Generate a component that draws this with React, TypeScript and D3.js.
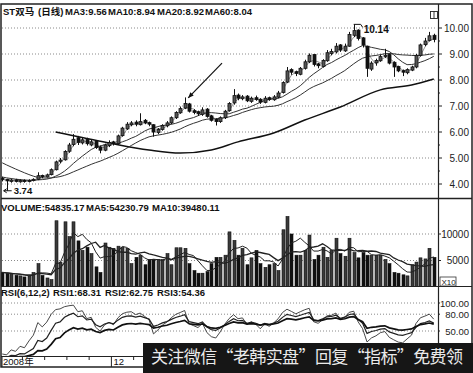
import React from 'react';
import * as d3 from 'd3';

const W = 473;
const H = 373;

// ---------- data ----------
const priorCloses = [5.9, 5.8, 5.7, 5.65, 5.6, 5.55, 5.5, 5.4, 5.3, 4.6, 4.52, 4.45, 4.4, 4.35, 4.3, 4.26, 4.22, 4.2, 4.18, 4.15];

const opens = [
  4.22, 4.18, 4.10, 4.16, 4.10, 4.14, 4.10, 4.13, 4.18, 4.33,
  4.27, 4.36, 4.55, 4.88, 4.93, 5.26, 5.52, 5.78, 5.58, 5.72,
  5.50, 5.65, 5.42, 5.30, 5.48, 5.62, 5.55, 5.86, 6.12, 6.28,
  6.38, 6.28, 6.45, 6.36, 6.28, 5.98, 6.10, 6.24, 6.35, 6.55,
  6.74, 6.92, 7.08, 6.82, 6.78, 6.68, 6.88, 6.62, 6.48, 6.40,
  6.55, 6.82, 7.12, 7.42, 7.28, 7.38, 7.18, 7.32, 7.26, 7.14,
  7.32, 7.24, 7.34, 7.52, 7.92, 8.40, 8.32, 8.22, 8.45, 8.70,
  8.98, 8.62, 8.52, 8.74, 9.02, 9.08, 9.35, 9.12, 9.30, 9.72,
  9.92, 9.62, 9.30, 8.42, 8.66, 8.74, 8.92, 8.98, 8.68, 8.52,
  8.36, 8.28, 8.38, 8.50, 8.94, 9.36, 9.52, 9.72,
];
const highs = [
  4.28, 4.20, 4.20, 4.20, 4.18, 4.18, 4.18, 4.22, 4.45, 4.36,
  4.40, 4.60, 4.90, 5.00, 5.30, 5.58, 5.92, 5.85, 5.80, 5.78,
  5.70, 5.68, 5.48, 5.55, 5.68, 5.66, 5.90, 6.20, 6.38, 6.42,
  6.45, 6.72, 6.50, 6.40, 6.30, 6.15, 6.30, 6.42, 6.60, 6.80,
  6.98, 7.33, 7.12, 6.88, 6.82, 6.95, 6.92, 6.66, 6.52, 6.60,
  6.85, 7.15, 7.65, 7.48, 7.42, 7.42, 7.36, 7.40, 7.30, 7.38,
  7.36, 7.42, 7.58, 7.95, 8.50, 8.45, 8.36, 8.50, 8.78, 9.02,
  9.00, 8.66, 8.80, 9.15, 9.20, 9.42, 9.38, 9.40, 9.85, 10.14,
  9.95, 9.65, 9.32, 8.72, 8.82, 8.98, 9.20, 9.02, 8.72, 8.55,
  8.40, 8.45, 8.55, 9.00, 9.40, 9.62, 9.85, 9.78,
];
const lows = [
  4.10, 3.74, 4.05, 4.06, 4.05, 4.05, 4.06, 4.10, 4.15, 4.22,
  4.25, 4.33, 4.52, 4.80, 4.90, 5.20, 5.45, 5.50, 5.52, 5.48,
  5.45, 5.35, 5.18, 5.26, 5.42, 5.48, 5.50, 5.82, 6.08, 6.22,
  6.22, 6.25, 6.30, 6.22, 5.82, 5.92, 6.05, 6.18, 6.30, 6.50,
  6.70, 6.88, 6.75, 6.68, 6.62, 6.62, 6.55, 6.40, 6.25, 6.35,
  6.50, 6.78, 7.05, 7.22, 7.22, 7.15, 7.12, 7.20, 7.08, 7.10,
  7.20, 7.20, 7.30, 7.48, 7.88, 8.20, 8.15, 8.18, 8.40, 8.65,
  8.52, 8.45, 8.48, 8.70, 8.95, 9.02, 9.08, 9.08, 9.28, 9.65,
  9.52, 9.25, 8.12, 8.35, 8.55, 8.70, 8.85, 8.60, 8.12, 8.30,
  8.15, 8.22, 8.34, 8.45, 8.90, 9.30, 9.48, 9.45,
];
const closes = [
  4.18, 4.12, 4.15, 4.10, 4.13, 4.10, 4.14, 4.18, 4.32, 4.28,
  4.35, 4.55, 4.85, 4.92, 5.25, 5.50, 5.72, 5.60, 5.70, 5.55,
  5.62, 5.40, 5.30, 5.50, 5.60, 5.55, 5.85, 6.15, 6.30, 6.35,
  6.30, 6.40, 6.35, 6.30, 6.00, 6.10, 6.25, 6.35, 6.55, 6.75,
  6.90, 7.10, 6.80, 6.75, 6.70, 6.85, 6.60, 6.45, 6.40, 6.55,
  6.80, 7.10, 7.40, 7.30, 7.35, 7.20, 7.30, 7.25, 7.15, 7.30,
  7.25, 7.35, 7.50, 7.90, 8.35, 8.30, 8.25, 8.45, 8.70, 8.95,
  8.60, 8.55, 8.75, 9.05, 9.10, 9.30, 9.15, 9.30, 9.75, 9.90,
  9.60, 9.35, 8.45, 8.65, 8.75, 8.90, 8.95, 8.65, 8.50, 8.35,
  8.30, 8.40, 8.50, 8.95, 9.35, 9.50, 9.70, 9.56,
];
const volumes = [
  2750, 2600, 2400, 2200, 2100, 1900, 2100, 2750, 4400, 2200,
  1700, 1400, 12500, 4700, 12300, 9500, 12300, 8700, 6900, 7500,
  6300, 3800, 2750, 8300, 7500, 7300, 7700, 7500, 7300, 4400,
  5600, 6000, 4200, 5200, 5200, 5200, 5200, 6300, 4200, 7400,
  7400, 7300, 4400, 3100, 2600, 2600, 2900, 4400, 5600, 5600,
  6000, 10400, 8800, 6000, 7300, 4200, 5500, 6900, 4400, 3700,
  4200, 4400, 3100, 10800, 13300, 10000, 6000, 6000, 6900, 9800,
  5200, 6000, 7500, 5600, 6900, 9200, 6300, 5800, 9200, 6500,
  5500, 6500, 6000, 6000, 6000, 6000, 5200, 4400, 2750, 2600,
  2300, 2100, 4200, 4700, 5500, 5300, 7300, 5600,
];
const ma60Idx = [12, 24, 33, 40, 47, 53, 61, 68, 76, 85, 92, 97];
const ma60Val = [6.0, 5.58, 5.31, 5.19, 5.31, 5.62, 5.96, 6.46, 6.96, 7.62, 7.81, 8.04];

const priceTicks = [4, 5, 6, 7, 8, 9, 10];
const priceMinor = [4.5, 5.5, 6.5, 7.5, 8.5, 9.5];
const volTicks = [5000, 10000];
const rsiTicks = [50, 80, 100];
const dateTickIdx = [5, 10, 15, 20, 30, 35];
const dateLabels = ['2008年', '12'];
const dateLabelIdx = [0, 25];

const priceTitle = ['ST双马', '(日线)', 'MA3:9.56', 'MA10:8.94', 'MA20:8.92', 'MA60:8.04'];
const volTitle = ['VOLUME:54835.17', 'MA5:54230.79', 'MA10:39480.11'];
const rsiTitle = ['RSI(6,12,2)', 'RSI1:68.31', 'RSI2:62.75', 'RSI3:54.36'];

const lowMark = { i: 1, v: 3.74, text: '3.74' };
const highMark = { i: 79, v: 10.14, text: '10.14' };
const arrowFrom = { i: 49.4, v: 8.65 };
const arrowTo = { i: 41.8, v: 7.31 };

const watermark = '关注微信“老韩实盘”回复“指标”免费领';

// ---------- derived ----------
const N = closes.length;
const P = priorCloses.length;
const allCloses = [...priorCloses, ...closes];

function maClose(n: number) {
  return closes.map((_, i) => {
    const end = P + i;
    const start = Math.max(0, end - n + 1);
    return d3.mean(allCloses.slice(start, end + 1)) as number;
  });
}
function maVol(n: number) {
  return volumes.map((_, i) => d3.mean(volumes.slice(Math.max(0, i - n + 1), i + 1)) as number);
}
function rsi(n: number) {
  let up: number | null = null;
  let ab = 0;
  const out: number[] = [];
  for (let k = 1; k < allCloses.length; k++) {
    const d = allCloses[k] - allCloses[k - 1];
    const u = Math.max(d, 0);
    const a = Math.abs(d);
    if (up === null) { up = u; ab = a; } else { up = (u + (n - 1) * up) / n; ab = (a + (n - 1) * ab) / n; }
    if (k >= P) out.push(ab === 0 ? 50 : (up / ab) * 100);
  }
  return out;
}

const FONT = '"Liberation Sans", Arial, "Noto Sans CJK SC", sans-serif';

export default function App() {
  const idx = d3.range(N);
  const xb = d3.scaleBand<number>().domain(idx).range([0, 436]).paddingInner(0.3).paddingOuter(0.15);
  const cx = (i: number) => (xb(i) as number) + xb.bandwidth() / 2;
  const xc = d3.scaleLinear().domain([0, N - 1]).range([cx(0), cx(N - 1)]);
  const bw = 3;

  const yP = d3.scaleLinear().domain([4, 10]).range([184, 28]);
  const yV = d3.scaleLinear().domain([0, 10000]).range([287, 234]);
  const yR = d3.scaleLinear().domain([0, 100]).range([359, 303]);

  const ma3 = maClose(3);
  const ma10 = maClose(10);
  const ma20 = maClose(20);
  const vma5 = maVol(5);
  const vma10 = maVol(10);
  const r1 = rsi(6);
  const r2 = rsi(12);
  const r3 = rsi(24);

  const lineP = d3.line<number>().x((_, i) => xc(i)).y((d) => yP(d));
  const lineV = d3.line<number>().x((_, i) => xc(i)).y((d) => yV(d));
  const lineR = d3.line<number>().x((_, i) => xc(i)).y((d) => yR(d));
  const ma60Line = d3.line<number>().x((d) => xc(d)).y((_, k) => yP(ma60Val[k])).curve(d3.curveMonotoneX);

  const axisX = 438;
  const plotR = 437;
  const grid = '#8a8a8a';

  const titleX = [3, 38, 65, 108, 157, 205];
  const volTitleX = [1, 86, 152];
  const rsiTitleX = [1, 53, 105, 157];

  const ax1 = xc(arrowFrom.i), ay1 = yP(arrowFrom.v), ax2 = xc(arrowTo.i), ay2 = yP(arrowTo.v);
  const ang = Math.atan2(ay2 - ay1, ax2 - ax1);
  const ah = 6;
  const head = [
    [ax2, ay2],
    [ax2 - ah * Math.cos(ang - 0.4), ay2 - ah * Math.sin(ang - 0.4)],
    [ax2 - ah * Math.cos(ang + 0.4), ay2 - ah * Math.sin(ang + 0.4)],
  ];
  const lx = cx(lowMark.i);
  const ly = yP(lowMark.v);

  return (
    <svg width={W} height={H} style={{ position: 'absolute', left: 0, top: 0, background: '#fff' }} fontFamily={FONT}>
      <defs>
        <clipPath id="cp"><rect x={1} y={5} width={plotR - 1} height={193} /></clipPath>
        <clipPath id="cv"><rect x={1} y={200} width={plotR - 1} height={86} /></clipPath>
        <clipPath id="cr"><rect x={1} y={287} width={plotR - 1} height={69} /></clipPath>
      </defs>
      <rect x={0} y={0} width={W} height={H} fill="#fff" />

      {/* grid lines */}
      {priceTicks.map((t) => (
        <line key={'pg' + t} x1={2} x2={plotR} y1={yP(t)} y2={yP(t)} stroke={grid} strokeDasharray="1,2" />
      ))}
      {volTicks.map((t) => (
        <line key={'vg' + t} x1={2} x2={plotR} y1={yV(t)} y2={yV(t)} stroke={grid} strokeDasharray="1,2" />
      ))}
      {rsiTicks.map((t) => (
        <line key={'rg' + t} x1={2} x2={plotR} y1={yR(t)} y2={yR(t)} stroke={grid} strokeDasharray="1,2" />
      ))}

      {/* price panel */}
      <g clipPath="url(#cp)">
        <path d={ma60Line(ma60Idx) || ''} fill="none" stroke="#111" strokeWidth={1.5} />
        <path d={lineP(ma20) || ''} fill="none" stroke="#333" strokeWidth={1} />
        <path d={lineP(ma10) || ''} fill="none" stroke="#333" strokeWidth={1} />
        <path d={lineP(ma3) || ''} fill="none" stroke="#666" strokeWidth={0.7} />
        {idx.map((i) => {
          const x = Math.round(cx(i)) + 0.5;
          const up = closes[i] >= opens[i];
          const top = yP(Math.max(opens[i], closes[i]));
          const bot = yP(Math.min(opens[i], closes[i]));
          return (
            <g key={'c' + i}>
              <line x1={x} x2={x} y1={yP(highs[i])} y2={yP(lows[i])} stroke="#111" strokeWidth={1} />
              <rect x={x - bw / 2} y={top} width={bw} height={Math.max(1.2, bot - top)}
                fill={up ? '#555' : '#111'} stroke="#111" strokeWidth={0.8} />
            </g>
          );
        })}
        {/* annotations */}
        <path d={`M${lx - 3},${ly} h8 M${lx - 3},${ly} l3,-2 M${lx - 3},${ly} l3,2`} fill="none" stroke="#111" strokeWidth={1} />
        <text x={lx + 7} y={ly + 3.5} fontSize={9.5} fontWeight="bold" fill="#111">{lowMark.text}</text>
        <path d={`M${cx(highMark.i)},${yP(highMark.v)} h7 l2,3`} fill="none" stroke="#111" strokeWidth={1} />
        <text x={cx(highMark.i) + 10} y={yP(highMark.v) + 9} fontSize={10} fontWeight="bold" fill="#111">{highMark.text}</text>
        <line x1={ax1} y1={ay1} x2={ax2} y2={ay2} stroke="#111" strokeWidth={1.2} />
        <polygon points={head.map((p) => p.join(',')).join(' ')} fill="#111" />
      </g>

      {/* volume panel */}
      <g clipPath="url(#cv)">
        {idx.map((i) => {
          const x = Math.round(cx(i)) + 0.5;
          const up = closes[i] >= opens[i];
          const top = yV(volumes[i]);
          return (
            <rect key={'v' + i} x={x - bw / 2} y={top} width={bw} height={yV(0) - top}
              fill={up ? '#3a3a3a' : '#111'} stroke="#111" strokeWidth={0.6} />
          );
        })}
        <path d={lineV(vma5) || ''} fill="none" stroke="#222" strokeWidth={1} />
        <path d={lineV(vma10) || ''} fill="none" stroke="#222" strokeWidth={1.3} />
      </g>

      {/* rsi panel */}
      <g clipPath="url(#cr)">
        <path d={lineR(r1) || ''} fill="none" stroke="#333" strokeWidth={0.9} />
        <path d={lineR(r2) || ''} fill="none" stroke="#222" strokeWidth={1.2} />
        <path d={lineR(r3) || ''} fill="none" stroke="#111" strokeWidth={1.7} />
      </g>

      {/* frame and separators */}
      <rect x={1} y={4} width={471} height={363} fill="none" stroke="#222" strokeWidth={1.5} />
      <line x1={1} x2={472} y1={198.5} y2={198.5} stroke="#222" strokeWidth={1.5} />
      <line x1={1} x2={472} y1={286.5} y2={286.5} stroke="#222" strokeWidth={1.2} />
      <line x1={1} x2={472} y1={356.5} y2={356.5} stroke="#222" strokeWidth={1} />
      <line x1={axisX + 0.5} x2={axisX + 0.5} y1={4} y2={367} stroke="#222" strokeWidth={1.2} />

      {/* right axes */}
      {priceTicks.map((t) => (
        <g key={'pt' + t}>
          <line x1={axisX} x2={axisX + 4} y1={yP(t)} y2={yP(t)} stroke="#222" />
          <text x={469} y={yP(t) + 3.5} fontSize={10} textAnchor="end" fill="#222">{t.toFixed(2)}</text>
        </g>
      ))}
      {priceMinor.map((t) => (
        <line key={'pm' + t} x1={axisX} x2={axisX + 2} y1={yP(t)} y2={yP(t)} stroke="#222" />
      ))}
      {volTicks.map((t) => (
        <g key={'vt' + t}>
          <line x1={axisX} x2={axisX + 3} y1={yV(t)} y2={yV(t)} stroke="#222" />
          <text x={469} y={yV(t) + 3.5} fontSize={10} textAnchor="end" fill="#222">{t}</text>
        </g>
      ))}
      <rect x={440} y={277} width={16} height={9} fill="#fff" stroke="#333" strokeWidth={0.8} />
      <text x={441.5} y={284.5} fontSize={8} fill="#222">X10</text>
      {rsiTicks.map((t) => (
        <g key={'rt' + t}>
          <line x1={axisX} x2={axisX + 2} y1={yR(t)} y2={yR(t)} stroke="#222" />
          <text x={469} y={yR(t) + 3.5} fontSize={9.5} textAnchor="end" fill="#222">{t.toFixed(2)}</text>
        </g>
      ))}

      {/* date row */}
      {dateTickIdx.map((i) => (
        <line key={'dt' + i} x1={(xb(i) as number) - 0.5} x2={(xb(i) as number) - 0.5} y1={357} y2={360} stroke="#222" />
      ))}
      {dateLabelIdx.map((i, k) => (
        <g key={'dl' + i}>
          <line x1={Math.max(2, (xb(i) as number) - 0.5)} x2={Math.max(2, (xb(i) as number) - 0.5)} y1={357} y2={367} stroke="#222" />
          <text x={Math.max(3, (xb(i) as number) + 1.5)} y={365} fontSize={9.5} fill="#111">{dateLabels[k]}</text>
        </g>
      ))}

      {/* titles */}
      {priceTitle.map((s, k) => (
        <text key={'ti' + k} x={titleX[k]} y={15} fontSize={9.5} fontWeight="bold" fill="#111">{s}</text>
      ))}
      <rect x={430.5} y={11.5} width={7} height={7} fill="#fff" stroke="#222" strokeWidth={0.9} />
      <line x1={434} x2={434} y1={11.5} y2={18.5} stroke="#222" strokeWidth={0.9} />
      {volTitle.map((s, k) => (
        <text key={'vt' + k} x={volTitleX[k]} y={211} fontSize={9.5} fontWeight="bold" fill="#111">{s}</text>
      ))}
      {rsiTitle.map((s, k) => (
        <text key={'rt' + k} x={rsiTitleX[k]} y={296} fontSize={9.5} fontWeight="bold" fill="#111">{s}</text>
      ))}

      {/* watermark banner */}
      <rect x={143} y={343} width={330} height={30} fill="#161616" />
      <text x={151} y={363} fontSize={17} fill="#eaeaea" fontFamily='"Noto Sans CJK SC", sans-serif'
        textLength={312} lengthAdjust="spacing">{watermark}</text>
    </svg>
  );
}
